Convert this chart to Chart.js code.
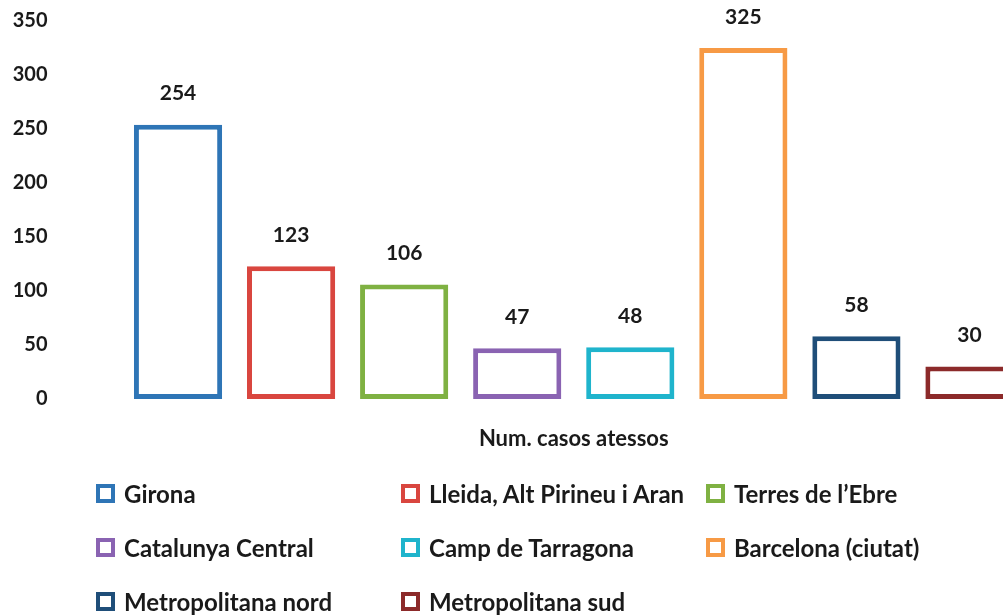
<!DOCTYPE html>
<html>
<head>
<meta charset="utf-8">
<script src="https://cdn.jsdelivr.net/npm/chart.js@4.4.1/dist/chart.umd.min.js"></script>
<style>
    html, body { margin: 0; padding: 0; background: #fff; overflow: hidden; }
    #wrap { position: relative; width: 1003px; height: 615px; overflow: hidden; }
    #chart { position: absolute; left: 0; top: 0; }
    #legend { position: absolute; left: 0; top: 0; width: 1003px; height: 615px; }
    .item { position: absolute; display: flex; align-items: center;
            font-family: Lato, sans-serif; font-weight: bold; font-size: 24px; color: #1a1a1a; }
    .item span.sw { display: inline-block; width: 11px; height: 11px; border: 4px solid; margin-right: 9px; background: #fff; }
</style>
</head>
<body>
<div id="wrap">
    <canvas id="chart" width="1026" height="462"></canvas>
    <div id="legend"></div>
</div>
<script>
var regions = ['Girona', 'Lleida, Alt Pirineu i Aran', "Terres de l\u2019Ebre", 'Catalunya Central',
    'Camp de Tarragona', 'Barcelona (ciutat)', 'Metropolitana nord', 'Metropolitana sud'];
var casos = [254, 123, 106, 47, 48, 325, 58, 30];
var colors = ['#2e75b6', '#d9463f', '#7fb142', '#8a63b2', '#1fb4cc', '#f79a45', '#1f4e79', '#8c2a2a'];
var yTicks = [0, 50, 100, 150, 200, 250, 300, 350];
var axisTitle = 'Num. casos atessos';

// legend grid: column x and row y for each item
var legendCols = [96, 401, 706];
var legendRows = [493, 547, 601];

var valueLabels = {
    id: 'valueLabels',
    afterDatasetsDraw: function(chart) {
        var ctx = chart.ctx;
        var meta = chart.getDatasetMeta(0);
        ctx.save();
        ctx.font = 'bold 21px Lato';
        ctx.fillStyle = '#1a1a1a';
        ctx.textAlign = 'center';
        ctx.textBaseline = 'middle';
        meta.data.forEach(function(bar, i) {
            ctx.fillText(casos[i], bar.x, bar.y - 31);
        });
        ctx.restore();
    }
};

var chart = new Chart(document.getElementById('chart'), {
    type: 'bar',
    data: {
        labels: regions,
        datasets: [{
            label: axisTitle,
            data: casos,
            backgroundColor: '#ffffff',
            borderColor: colors,
            borderWidth: 5,
            borderSkipped: false,
            categoryPercentage: 1.0,
            barPercentage: 0.78
        }]
    },
    options: {
        responsive: false,
        animation: false,
        layout: { padding: { top: 21, right: 0, left: 0, bottom: 0 } },
        plugins: {
            legend: { display: false },
            tooltip: { enabled: false }
        },
        scales: {
            x: {
                grid: { display: false, drawTicks: false },
                border: { display: false },
                ticks: { display: false },
                title: {
                    display: true,
                    text: axisTitle,
                    color: '#1a1a1a',
                    font: { family: 'Lato', weight: 'bold', size: 22 },
                    padding: { top: 28, bottom: 10 }
                },
                afterFit: function(scale) { scale.height = 63; }
            },
            y: {
                min: 0,
                max: 350,
                afterBuildTicks: function(scale) {
                    scale.ticks = yTicks.map(function(v) { return { value: v }; });
                },
                afterFit: function(scale) {
                    scale.width = 121.5;
                    // big tick padding is only meant to push labels left
                    scale.paddingTop = 0;
                    scale.paddingBottom = 0;
                },
                grid: { display: false, drawTicks: false },
                border: { display: false },
                ticks: {
                    padding: 74,
                    color: '#1a1a1a',
                    font: { family: 'Lato', weight: 'bold', size: 20 }
                }
            }
        }
    },
    plugins: [valueLabels]
});

var legend = document.getElementById('legend');
regions.forEach(function(name, i) {
    var d = document.createElement('div');
    d.className = 'item';
    d.style.left = legendCols[i % 3] + 'px';
    d.style.top = (legendRows[Math.floor(i / 3)] - 14) + 'px';
    d.style.height = '28px';
    var sw = document.createElement('span');
    sw.className = 'sw';
    sw.style.borderColor = colors[i];
    d.appendChild(sw);
    d.appendChild(document.createTextNode(name));
    legend.appendChild(d);
});
</script>
</body>
</html>
